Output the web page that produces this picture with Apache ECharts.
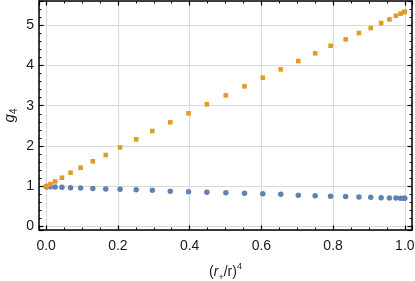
<!DOCTYPE html>
<html><head><meta charset="utf-8">
<script src="https://cdn.jsdelivr.net/npm/echarts@6/dist/echarts.min.js"></script>
<style>html,body{margin:0;padding:0;background:#fff}#c{width:415px;height:281px}</style>
</head><body><div id="c"></div>
<script>
var xs = [0, 0.003, 0.012, 0.025, 0.044, 0.068, 0.096, 0.13, 0.166, 0.206, 0.251, 0.296, 0.346, 0.397, 0.448, 0.501, 0.553, 0.604, 0.654, 0.703, 0.75, 0.793, 0.835, 0.872, 0.905, 0.934, 0.957, 0.975, 0.988, 0.997, 1.0];
var orangeY = [1.0, 1.01, 1.057, 1.12, 1.213, 1.337, 1.462, 1.62, 1.777, 1.967, 2.166, 2.372, 2.588, 2.811, 3.035, 3.258, 3.481, 3.695, 3.903, 4.109, 4.30, 4.489, 4.648, 4.804, 4.928, 5.052, 5.144, 5.233, 5.283, 5.317, 5.333];
var blueY = [0.99, 0.99, 0.988, 0.983, 0.975, 0.966, 0.956, 0.946, 0.935, 0.925, 0.912, 0.9, 0.876, 0.862, 0.851, 0.838, 0.828, 0.817, 0.80, 0.78, 0.768, 0.755, 0.745, 0.735, 0.727, 0.718, 0.712, 0.708, 0.705, 0.704, 0.703];
var xRange = [-0.02, 1.02];
var yRange = [-0.085, 5.6];

function pairs(a, b) { return a.map(function (v, i) { return [v, b[i]]; }); }

var font = 'Liberation Sans';
var txt = '#1a1a1a';
function axisCommon(extra) {
  var base = {
    type: 'value',
    axisLine: { show: true, onZero: false, lineStyle: { color: '#000', width: 1.5 } },
    axisTick: { show: true, inside: true, length: 4.5, lineStyle: { color: '#000', width: 1.2 } },
    minorTick: { show: true, length: 2.5, lineStyle: { color: '#000', width: 1 } },
    splitLine: { show: false },
    axisLabel: { show: false }
  };
  return Object.assign(base, extra);
}
var gridLine = { show: true, lineStyle: { color: '#d9d9d9', width: 1 } };

var chart = echarts.init(document.getElementById('c'), null, { renderer: 'canvas' });
chart.setOption({
  animation: false,
  backgroundColor: '#fff',
  grid: { left: 39, right: 3, top: 1, bottom: 51, containLabel: false, outerBoundsMode: 'none' },
  xAxis: [
    axisCommon({
      position: 'bottom', min: xRange[0], max: xRange[1], splitNumber: 5,
      minorTick: { show: true, splitNumber: 4, length: 2.5, lineStyle: { color: '#000', width: 1 } },
      splitLine: gridLine,
      axisLabel: { show: true, showMinLabel: false, showMaxLabel: false, color: txt, fontFamily: font, fontSize: 14, margin: 9,
        formatter: function (v) { return v.toFixed(1); } },
      name: '{p|(}{i|r}{sub|+}{p|/r)}{sup|4}',
      nameLocation: 'middle', nameGap: 32, nameMoveOverlap: false,
      nameTextStyle: {
        color: txt, fontFamily: font, fontSize: 14,
        rich: {
          p: { fontFamily: font, fontSize: 14, color: txt, lineHeight: 20, verticalAlign: 'middle' },
          i: { fontFamily: font, fontSize: 14, color: txt, fontStyle: 'italic', lineHeight: 20, verticalAlign: 'middle' },
          sub: { fontFamily: font, fontSize: 9, color: txt, lineHeight: 20, verticalAlign: 'bottom' },
          sup: { fontFamily: font, fontSize: 9, color: txt, lineHeight: 20, verticalAlign: 'top' }
        }
      }
    }),
    axisCommon({
      position: 'top', min: xRange[0], max: xRange[1], splitNumber: 5,
      minorTick: { show: true, splitNumber: 4, length: 2.5, lineStyle: { color: '#000', width: 1 } }
    })
  ],
  yAxis: [
    axisCommon({
      position: 'left', min: yRange[0], max: yRange[1], splitNumber: 5,
      minorTick: { show: true, splitNumber: 5, length: 2.5, lineStyle: { color: '#000', width: 1 } },
      splitLine: gridLine,
      axisLabel: { show: true, showMinLabel: false, showMaxLabel: false, color: txt, fontFamily: font, fontSize: 14, margin: 5 },
      name: '{i|g}{sub|4}',
      nameLocation: 'middle', nameGap: 20, nameRotate: 90, nameMoveOverlap: false,
      nameTextStyle: {
        color: txt, fontFamily: font, fontSize: 15,
        rich: {
          i: { fontFamily: font, fontSize: 15, color: txt, fontStyle: 'italic', lineHeight: 18, verticalAlign: 'middle' },
          sub: { fontFamily: font, fontSize: 10, color: txt, lineHeight: 18, verticalAlign: 'bottom' }
        }
      }
    }),
    axisCommon({
      position: 'right', min: yRange[0], max: yRange[1], splitNumber: 5,
      minorTick: { show: true, splitNumber: 5, length: 2.5, lineStyle: { color: '#000', width: 1 } }
    })
  ],
  series: [
    {
      type: 'scatter', xAxisIndex: 0, yAxisIndex: 0,
      data: pairs(xs, blueY), symbol: 'circle', symbolSize: 5.5,
      itemStyle: { color: '#5e81b5', opacity: 1 }, z: 3
    },
    {
      type: 'scatter', xAxisIndex: 0, yAxisIndex: 0,
      data: pairs(xs, orangeY), symbol: 'rect', symbolSize: 4.6,
      itemStyle: { color: '#e19c24', opacity: 1 }, z: 4
    }
  ]
});
</script>
</body></html>
